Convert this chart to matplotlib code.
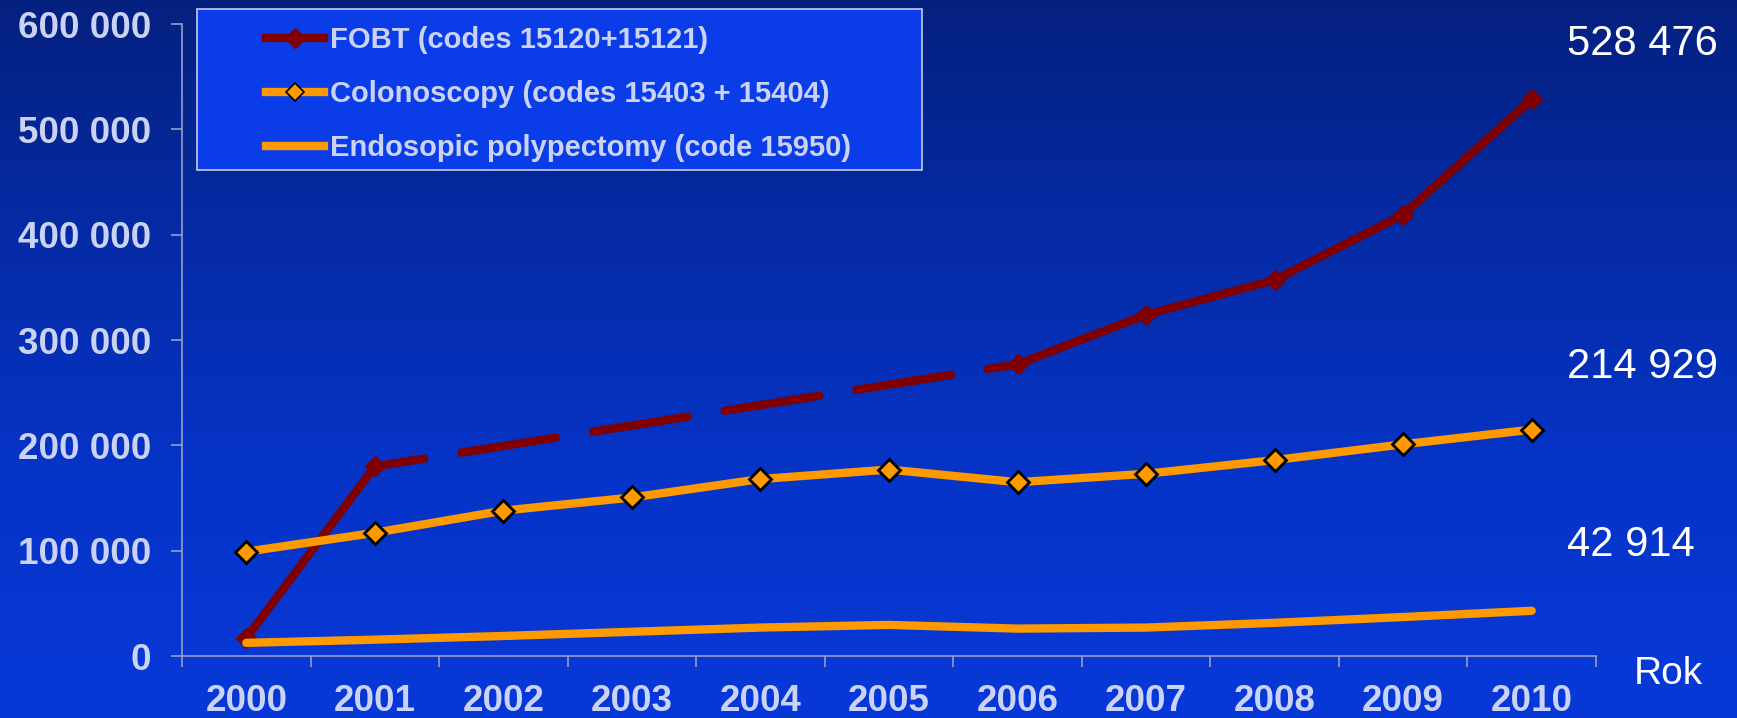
import numpy as np
import matplotlib
matplotlib.use("Agg")
import matplotlib.pyplot as plt
from matplotlib.patches import Rectangle
from matplotlib.lines import Line2D
from matplotlib.colors import LinearSegmentedColormap

# ---------------- data ----------------
years = ["2000", "2001", "2002", "2003", "2004", "2005",
         "2006", "2007", "2008", "2009", "2010"]
fobt = [17000, 180000, np.nan, np.nan, np.nan, np.nan,
        277000, 324000, 357000, 419000, 528476]
colonoscopy = [99000, 117000, 138000, 150500, 168000, 177000,
               165000, 173000, 186000, 201000, 214929]
polypectomy = [12500, 15500, 19000, 23000, 27000, 29500,
               26000, 27000, 31500, 37000, 42914]
ytick_values = [0, 100000, 200000, 300000, 400000, 500000, 600000]
ytick_labels = ["0", "100 000", "200 000", "300 000", "400 000", "500 000", "600 000"]
series_labels = ["FOBT (codes 15120+15121)",
                 "Colonoscopy (codes 15403 + 15404)",
                 "Endosopic polypectomy (code 15950)"]
end_labels = ["528 476", "214 929", "42 914"]
axis_label = "Rok"

# ---------------- style ----------------
W, H = 1737, 718
DARKRED = "#800000"
ORANGE = "#ff9900"
TICKTXT = "#cbd3f5"
SPINE = "#979fc8"
FONT = "Liberation Sans"
LW = 6

fig = plt.figure(figsize=(W / 100, H / 100), dpi=100)

# background gradient
bg = fig.add_axes([0, 0, 1, 1], zorder=-10)
cmap = LinearSegmentedColormap.from_list(
    "bg", ["#04207f", "#052ba6", "#0634c8", "#0838d8"])
grad = np.linspace(0, 1, 256).reshape(-1, 1)
bg.imshow(grad, aspect="auto", cmap=cmap, extent=[0, 1, 0, 1], origin="upper")
bg.set_axis_off()

# main axes
ax = fig.add_axes([182 / W, 1 - 656 / H, (1596 - 182) / W, (656 - 24) / H])
ax.set_facecolor("none")
x = np.arange(len(years))

fobt_arr = np.array(fobt, dtype=float)
ax.plot(x, fobt_arr, color=DARKRED, lw=LW, marker="D", ms=10,
        mfc=DARKRED, mec=DARKRED, solid_capstyle="round", zorder=3)
# dashed connector over the years without FOBT data
valid = np.where(~np.isnan(fobt_arr))[0]
k = np.where(np.diff(valid) > 1)[0][0]
gap_start, gap_end = valid[k], valid[k + 1]
ax.plot([x[gap_start], x[gap_end]], [fobt_arr[gap_start], fobt_arr[gap_end]],
        color=DARKRED, lw=LW, linestyle=(5.5, (11.5, 4.5)),
        dash_capstyle="round", zorder=3)

ax.plot(x, colonoscopy, color=ORANGE, lw=LW, marker="D", ms=11,
        mfc=ORANGE, mec="black", mew=2.0, solid_capstyle="round", zorder=4)
ax.plot(x, polypectomy, color=ORANGE, lw=LW, solid_capstyle="round", zorder=5)

ax.set_xlim(-0.5, len(years) - 0.5)
ax.set_ylim(0, 600000)

ax.set_yticks(ytick_values)
ax.set_yticklabels(ytick_labels)
ax.set_xticks(x)
ax.set_xticklabels(years)
ax.set_xticks(np.arange(-0.5, len(years), 1.0), minor=True)

for s in ["top", "right"]:
    ax.spines[s].set_visible(False)
for s in ["left", "bottom"]:
    ax.spines[s].set_color(SPINE)
    ax.spines[s].set_linewidth(1.2)

ax.tick_params(axis="y", which="major", direction="out", length=8, width=1.2,
               color=SPINE, pad=14, labelcolor=TICKTXT)
ax.tick_params(axis="x", which="major", length=0, pad=20, labelcolor=TICKTXT)
ax.tick_params(axis="x", which="minor", direction="out", length=8, width=1.2,
               color=SPINE)
for lab in ax.get_xticklabels() + ax.get_yticklabels():
    lab.set_fontfamily(FONT)
    lab.set_fontweight("bold")
    lab.set_fontsize(26.5)

# legend box
fig.patches.append(Rectangle((197 / W, 1 - 170 / H), (922 - 197) / W, (170 - 9) / H,
                             transform=fig.transFigure, facecolor="#0a3ce8",
                             edgecolor="#c4ccf2", lw=1.2, zorder=1))
handles = [
    Line2D([], [], color=DARKRED, lw=LW, marker="D", ms=10, mfc=DARKRED, mec=DARKRED),
    Line2D([], [], color=ORANGE, lw=LW, marker="D", ms=9, mfc=ORANGE, mec="black", mew=1.2),
    Line2D([], [], color=ORANGE, lw=LW),
]
leg = fig.legend(handles, series_labels, loc="upper left",
                 bbox_to_anchor=(266 / W, 1 - 26 / H), frameon=False,
                 borderpad=0, borderaxespad=0, handlelength=2.0,
                 handletextpad=0.2, labelspacing=0.9,
                 prop={"family": FONT, "weight": "bold", "size": 21})
for t in leg.get_texts():
    t.set_color(TICKTXT)

# end value labels
ends_y = [55, 378, 556]
for lbl, yb in zip(end_labels, ends_y):
    fig.text(1567 / W, 1 - yb / H, lbl, color="white", fontsize=30,
             fontfamily=FONT, va="baseline", ha="left")
fig.text(1634 / W, 1 - 684 / H, axis_label, color="white", fontsize=28,
         fontfamily=FONT, va="baseline", ha="left")

fig.savefig("out.png", dpi=100)
